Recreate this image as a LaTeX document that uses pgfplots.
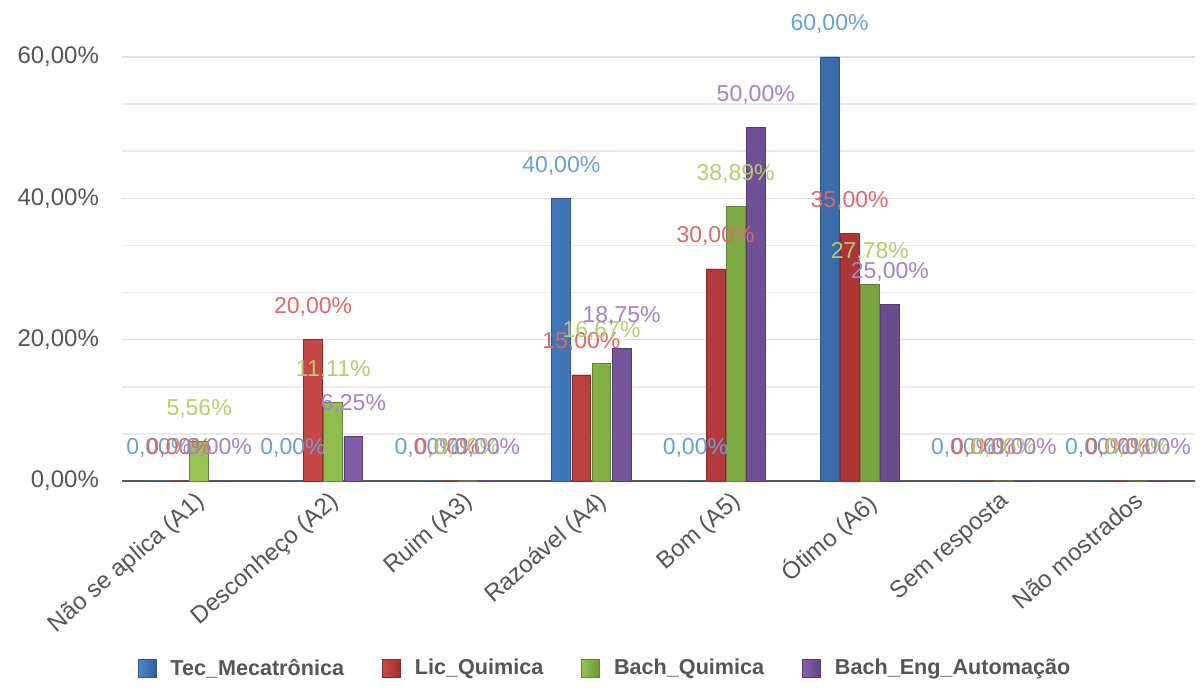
\documentclass[border=0pt]{standalone}
\usepackage{fontspec}
\setmainfont{Liberation Sans}
\usepackage{pgfplots}
\pgfplotsset{compat=1.18}
\definecolor{cBlue}{HTML}{3F7CC8}
\definecolor{cRed}{HTML}{C83C3C}
\definecolor{cGreen}{HTML}{8CBF44}
\definecolor{cPurple}{HTML}{7B55A6}
\definecolor{lBlue}{HTML}{6E9FD2}
\definecolor{lRed}{HTML}{D96A6A}
\definecolor{lGreen}{HTML}{B3CE74}
\definecolor{lPurple}{HTML}{A384C4}
\definecolor{txt}{HTML}{555555}
\begin{document}
\begin{tikzpicture}
\begin{axis}[
  scale only axis,
  width=536.5pt, height=212pt,
  xmin=-0.5, xmax=7.5,
  ymin=0, ymax=60,
  clip=false,
  /pgf/number format/assume math mode=true,
  ybar, bar width=0.14,
  xtick={0,1,2,3,4,5,6,7},
  xticklabels={Não se aplica (A1),Desconheço (A2),Ruim (A3),Razoável (A4),Bom (A5),Ótimo (A6),Sem resposta,Não mostrados},
  xticklabel style={rotate=41, anchor=north east, font=\fontsize{12}{14}\selectfont, text=txt, inner sep=1pt, yshift=-4pt},
  ytick={0,20,40,60},
  minor y tick num=2,
  yticklabel={\pgfmathprintnumber[fixed,fixed zerofill,precision=2,use comma]{\tick}\%},
  yticklabel style={font=\fontsize{12}{14}\selectfont, text=txt, anchor=east, xshift=-8pt},
  ymajorgrids, yminorgrids,
  major grid style={draw=black!12, line width=0.8pt},
  minor grid style={draw=black!8, line width=0.8pt},
  major tick length=0pt, minor tick length=0pt,
  axis lines*=left,
  y axis line style={draw=none},
  x axis line style={draw=black!65, line width=1pt, -},
  nodes near coords={\pgfmathprintnumber[fixed,fixed zerofill,precision=2,use comma]{\pgfplotspointmeta}\%},
  every node near coord/.append style={font=\fontsize{11.5}{13}\selectfont, anchor=south, yshift=8pt},
  legend style={at={(0.451,-0.40)}, anchor=north, draw=none, fill=none,
    font=\bfseries\fontsize{10.8}{13}\selectfont, text=txt,
    legend columns=4,
    /tikz/every odd column/.append style={column sep=5pt},
    /tikz/every even column/.append style={column sep=17pt}},
  legend image code/.code={\fill[#1] (0pt,-4.5pt) rectangle (9pt,4.5pt);},
]
\addplot[bar shift=-0.225, draw=cBlue!70!black, left color=cBlue!92!white, middle color=cBlue, right color=cBlue!78!black, nodes near coords style={text=lBlue}, fill=cBlue]
  coordinates {(0,0) (1,0) (2,0) (3,40) (4,0) (5,60) (6,0) (7,0)};
\addlegendentry{Tec\_Mecatrônica}
\addplot[bar shift=-0.075, draw=cRed!70!black, left color=cRed!92!white, middle color=cRed, right color=cRed!78!black, nodes near coords style={text=lRed}, fill=cRed]
  coordinates {(0,0) (1,20) (2,0) (3,15) (4,30) (5,35) (6,0) (7,0)};
\addlegendentry{Lic\_Quimica}
\addplot[bar shift=0.075, draw=cGreen!70!black, left color=cGreen!92!white, middle color=cGreen, right color=cGreen!78!black, nodes near coords style={text=lGreen}, fill=cGreen]
  coordinates {(0,5.56) (1,11.11) (2,0) (3,16.67) (4,38.89) (5,27.78) (6,0) (7,0)};
\addlegendentry{Bach\_Quimica}
\addplot[bar shift=0.225, draw=cPurple!70!black, left color=cPurple!92!white, middle color=cPurple, right color=cPurple!78!black, nodes near coords style={text=lPurple}, fill=cPurple]
  coordinates {(0,0) (1,6.25) (2,0) (3,18.75) (4,50) (5,25) (6,0) (7,0)};
\addlegendentry{Bach\_Eng\_Automação}
\end{axis}
\pgfresetboundingbox
\path (current axis.south west) ++(-61pt,-106pt) coordinate (bbA);
\path (current axis.north east) ++(4pt,28.5pt) coordinate (bbB);
\path[use as bounding box] (bbA) rectangle (bbB);
\end{tikzpicture}
\end{document}
